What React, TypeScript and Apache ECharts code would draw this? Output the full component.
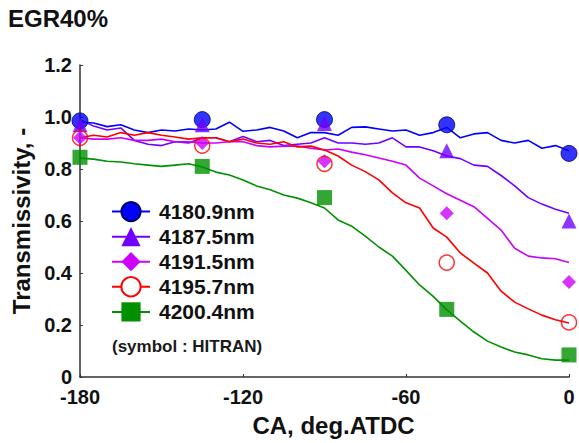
import React, { useEffect, useRef } from "react";
import * as echarts from "echarts";

const lineX = [
  -180, -175, -170, -165, -160, -155, -150, -145, -140, -135, -130, -125, -120,
  -115, -110, -105, -100, -95, -90, -85, -80, -75, -70, -65, -60, -55, -50, -45,
  -40, -35, -30, -25, -20, -15, -10, -5, 0,
];

const blueLine = [
  0.98, 0.977, 0.963, 0.97, 0.95, 0.94, 0.95, 0.946, 0.954, 0.95, 0.954, 0.98,
  0.945, 0.95, 0.96, 0.946, 0.92, 0.94, 0.94, 0.93, 0.96, 0.962, 0.954, 0.946,
  0.95, 0.93, 0.94, 0.96, 0.92, 0.935, 0.94, 0.91, 0.9, 0.91, 0.88, 0.89, 0.87,
];
const purpleLine = [
  0.99, 0.965, 0.95, 0.958, 0.91, 0.895, 0.89, 0.905, 0.9, 0.92, 0.92, 0.905,
  0.925, 0.905, 0.91, 0.89, 0.895, 0.9, 0.92, 0.9, 0.9, 0.895, 0.9, 0.92, 0.885,
  0.885, 0.87, 0.85, 0.84, 0.815, 0.81, 0.775, 0.735, 0.69, 0.665, 0.645, 0.63,
];
const magentaLine = [
  0.92, 0.915, 0.915, 0.92, 0.91, 0.91, 0.915, 0.905, 0.905, 0.9, 0.9, 0.905,
  0.905, 0.89, 0.885, 0.888, 0.888, 0.88, 0.873, 0.877, 0.865, 0.855, 0.842,
  0.83, 0.815, 0.765, 0.735, 0.705, 0.68, 0.655, 0.61, 0.565, 0.495, 0.465,
  0.458, 0.455, 0.44,
];
const redLine = [
  0.92, 0.93, 0.923, 0.94, 0.93, 0.94, 0.93, 0.923, 0.915, 0.92, 0.92, 0.905,
  0.915, 0.9, 0.895, 0.905, 0.885, 0.888, 0.873, 0.85, 0.815, 0.79, 0.758,
  0.708, 0.67, 0.65, 0.573, 0.538, 0.477, 0.438, 0.4, 0.33, 0.288, 0.262, 0.238,
  0.22, 0.208,
];
const greenLine = [
  0.842, 0.838, 0.83, 0.827, 0.82, 0.815, 0.81, 0.815, 0.82, 0.808, 0.788, 0.777,
  0.758, 0.735, 0.72, 0.7, 0.688, 0.67, 0.65, 0.604, 0.58, 0.542, 0.5, 0.465,
  0.41, 0.354, 0.31, 0.258, 0.215, 0.173, 0.138, 0.115, 0.096, 0.085, 0.07,
  0.065, 0.065,
];

const hitranX = [-180, -135, -90, -45, 0];
const blueHitran = [0.985, 0.99, 0.99, 0.97, 0.86];
const purpleHitran = [0.97, 0.97, 0.975, 0.87, 0.6];
const magentaHitran = [0.92, 0.9, 0.83, 0.63, 0.365];
const redHitran = [0.92, 0.89, 0.82, 0.44, 0.21];
const greenHitran = [0.845, 0.81, 0.69, 0.26, 0.085];

const seriesNames = ["4180.9nm", "4187.5nm", "4191.5nm", "4195.7nm", "4200.4nm"];
const xTicks = [-180, -120, -60, 0];

const FONT = "'Liberation Sans', Arial, sans-serif";

export default function App() {
  const ref = useRef<HTMLDivElement>(null);
  useEffect(() => {
    if (!ref.current) return;
    const chart = echarts.init(ref.current, null, { renderer: "svg" });
    const pair = (xs: number[], ys: number[]) => xs.map((x, i) => [x, ys[i]]);
    const defs = [
      { name: seriesNames[0], color: "#0000ff", line: blueLine, pts: blueHitran, symbol: "circle", size: 16, border: "#000060", bw: 1 },
      { name: seriesNames[1], color: "#7000ff", line: purpleLine, pts: purpleHitran, symbol: "triangle", size: 15, border: "#7000ff", bw: 0 },
      { name: seriesNames[2], color: "#cc00ff", line: magentaLine, pts: magentaHitran, symbol: "diamond", size: 14, border: "#cc00ff", bw: 0 },
      { name: seriesNames[3], color: "#ff0000", line: redLine, pts: redHitran, symbol: "emptyCircle", size: 15, border: "#ff0000", bw: 1.5 },
      { name: seriesNames[4], color: "#009000", line: greenLine, pts: greenHitran, symbol: "rect", size: 15, border: "#009000", bw: 0 },
    ];
    const series: any[] = [];
    defs.forEach((d) => {
      series.push({
        type: "line",
        name: d.name,
        data: pair(lineX, d.line),
        symbol: d.symbol,
        showSymbol: false,
        lineStyle: { color: d.color, width: 1.6 },
        itemStyle: { color: d.color, borderColor: d.border, borderWidth: d.symbol === "circle" ? 1 : 0 },
        z: 2,
      });
    });
    defs.forEach((d) => {
      series.push({
        type: "scatter",
        name: d.name + " HITRAN",
        data: pair(hitranX, d.pts),
        symbol: d.symbol === "emptyCircle" ? "circle" : d.symbol,
        symbolSize: d.size,
        itemStyle:
          d.symbol === "emptyCircle"
            ? { color: "rgba(255,255,255,0)", borderColor: d.color, borderWidth: 1.5 }
            : { color: d.color, borderColor: d.border, borderWidth: d.bw },
        z: 3,
      });
    });
    chart.setOption({
      animation: false,
      grid: { left: 80, right: 10, top: 65, bottom: 66, containLabel: false },
      xAxis: {
        type: "value",
        min: -180,
        max: 0,
        interval: 60,
        splitLine: { show: false },
        axisLine: { onZero: false, lineStyle: { color: "#333", width: 1.5 } },
        axisTick: { inside: true, length: 3, lineStyle: { color: "#333" } },
        axisLabel: {
          margin: 10,
          color: "#111",
          fontSize: 20,
          fontWeight: "bold",
          fontFamily: FONT,
          formatter: (v: number) => (xTicks.includes(v) ? String(v) : ""),
        },
        name: "CA, deg.ATDC",
        nameLocation: "middle",
        nameGap: 36,
        nameTextStyle: { fontSize: 24, fontWeight: "bold", fontFamily: FONT, color: "#111", padding: [0, 0, 0, 18] },
      },
      yAxis: {
        type: "value",
        min: 0,
        max: 1.2,
        interval: 0.2,
        splitLine: { show: false },
        axisLine: { show: true, onZero: false, lineStyle: { color: "#333", width: 1.5 } },
        axisTick: { show: true, inside: true, length: 3, lineStyle: { color: "#333" } },
        axisLabel: {
          margin: 8,
          color: "#111",
          fontSize: 20,
          fontWeight: "bold",
          fontFamily: FONT,
          formatter: (v: number) => (v === 0 ? "0" : v.toFixed(1)),
        },
        name: "Transmissivity, -",
        nameLocation: "middle",
        nameGap: 40,
        nameTextStyle: { fontSize: 24, fontWeight: "bold", fontFamily: FONT, color: "#111" },
      },
      legend: {
        data: seriesNames,
        orient: "vertical",
        left: 106,
        top: 196,
        itemWidth: 38,
        itemHeight: 24,
        itemGap: 4,
        textStyle: { fontSize: 21, fontWeight: "bold", fontFamily: FONT, color: "#111", padding: [0, 0, 0, 4] },
      },
      graphic: [
        {
          type: "text",
          left: 8,
          top: 6,
          style: { text: "EGR40%", font: `bold 24px ${FONT}`, fill: "#111" },
        },
        {
          type: "text",
          left: 112,
          top: 338,
          style: { text: "(symbol : HITRAN)", font: `bold 17px ${FONT}`, fill: "#1a1a1a" },
        },
      ],
      series,
    });
    return () => chart.dispose();
  }, []);
  return (
    <div
      ref={ref}
      style={{ position: "fixed", left: 0, top: 0, width: 579, height: 443, background: "#fff" }}
    />
  );
}
